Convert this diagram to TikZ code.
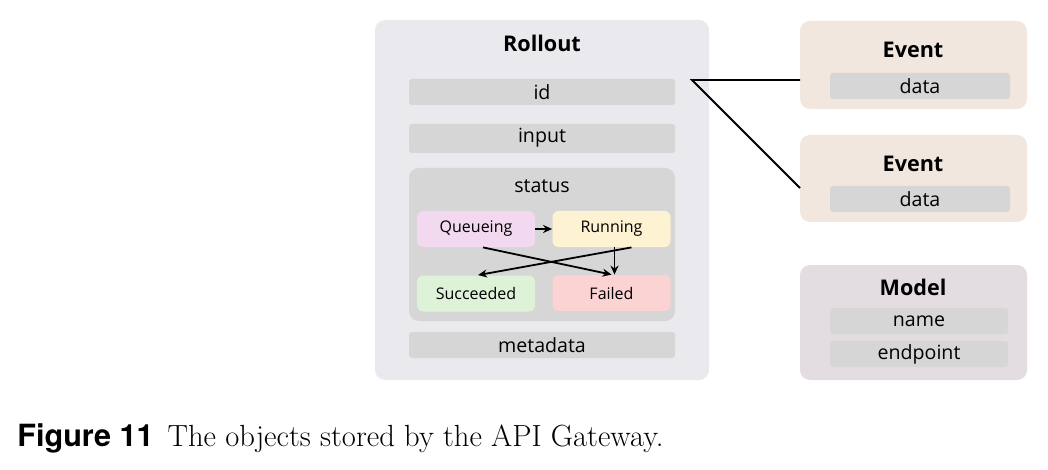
\documentclass[tikz,border=0pt]{standalone}
\usepackage{fontspec}
\newfontfamily\boxfont{Open Sans}
\newfontfamily\capfont{TeX Gyre Heros}
\usetikzlibrary{arrows.meta}
\definecolor{panel}{HTML}{E9E9EE}
\definecolor{field}{HTML}{D6D6D6}
\definecolor{evt}{HTML}{F1E7DF}
\definecolor{mdl}{HTML}{E3DDE2}
\definecolor{queue}{HTML}{F2D9F0}
\definecolor{run}{HTML}{FDF2D1}
\definecolor{succ}{HTML}{DDF2D6}
\definecolor{fail}{HTML}{FBD3D3}
\tikzset{
  box/.style={rounded corners=5pt, fill=#1},
  bar/.style={rounded corners=1.5pt, fill=field},
  lbl/.style={font=\boxfont\fontsize{9.8}{11}\selectfont},
  ttl/.style={font=\boxfont\bfseries\fontsize{10.8}{12}\selectfont},
  st/.style={rounded corners=3pt, fill=#1, minimum width=59pt, minimum height=18pt, inner sep=0pt, font=\boxfont\fontsize{8}{9}\selectfont},
  flow/.style={line width=0.9pt, -{Stealth[length=4.5pt, width=4pt]}},
}
\begin{document}
\begin{tikzpicture}[x=0.5pt, y=-0.5pt]
\useasboundingbox (0,0) rectangle (1048,470);

% rollout object
\fill[box=panel] (375,20) rectangle (709,380);
\node[ttl] (rollout) at (542,43) {Rollout};
\fill[bar] (409,79) rectangle (675,105);
\node[lbl] (id) at (542,92) {id};
\fill[bar] (409,124) rectangle (675,153);
\node[lbl] (input) at (542,138) {input};
\fill[box=field] (409,168) rectangle (675,321);
\node[lbl] (status) at (542,186) {status};
\fill[bar] (409,332) rectangle (675,358);
\node[lbl] (metadata) at (542,345) {metadata};

% states
\node[st=queue] (queueing) at (476,229) {Queueing};
\node[st=run] (running) at (611.5,229) {Running};
\node[st=succ] (succeeded) at (476,293.5) {Succeeded};
\node[st=fail] (failed) at (611.5,293) {Failed};
\draw[flow] (queueing) -- (running);
\draw[flow] ([xshift=3.5pt]queueing.south) -- ([xshift=0pt]failed.north);
\draw[flow] ([xshift=10pt]running.south) -- ([xshift=1pt]succeeded.north);
\draw[flow] ([xshift=1.5pt]running.south) -- ([xshift=1.5pt]failed.north);

% events
\fill[box=evt] (800,21) rectangle (1027,109);
\node[ttl] (event1) at (913,50) {Event};
\fill[bar] (830,73) rectangle (1010,99);
\node[lbl] (data1) at (920,86) {data};
\fill[box=evt] (800,135) rectangle (1027,222);
\node[ttl] (event2) at (913,164) {Event};
\fill[bar] (830,186) rectangle (1010,212);
\node[lbl] (data2) at (920,199) {data};

% model
\fill[box=mdl] (800,265) rectangle (1027,380);
\node[ttl] (model) at (913,287) {Model};
\fill[bar] (830,308) rectangle (1008,334);
\node[lbl] (name) at (919,321) {name};
\fill[bar] (830,341) rectangle (1008,367);
\node[lbl] (endpoint) at (919,354) {endpoint};

% links
\coordinate (fork) at (692,80);
\coordinate (e1) at (800,80);
\coordinate (e2) at (800,188);
\draw[line width=0.9pt] (e1) -- (fork) -- (e2);

% caption
\node[anchor=west, inner sep=0pt, font=\fontsize{15.3}{17}\selectfont] (cap) at (17,438)
  {{\capfont\bfseries Figure 11}\hspace{7pt}The objects stored by the API Gateway.};
\end{tikzpicture}
\end{document}
